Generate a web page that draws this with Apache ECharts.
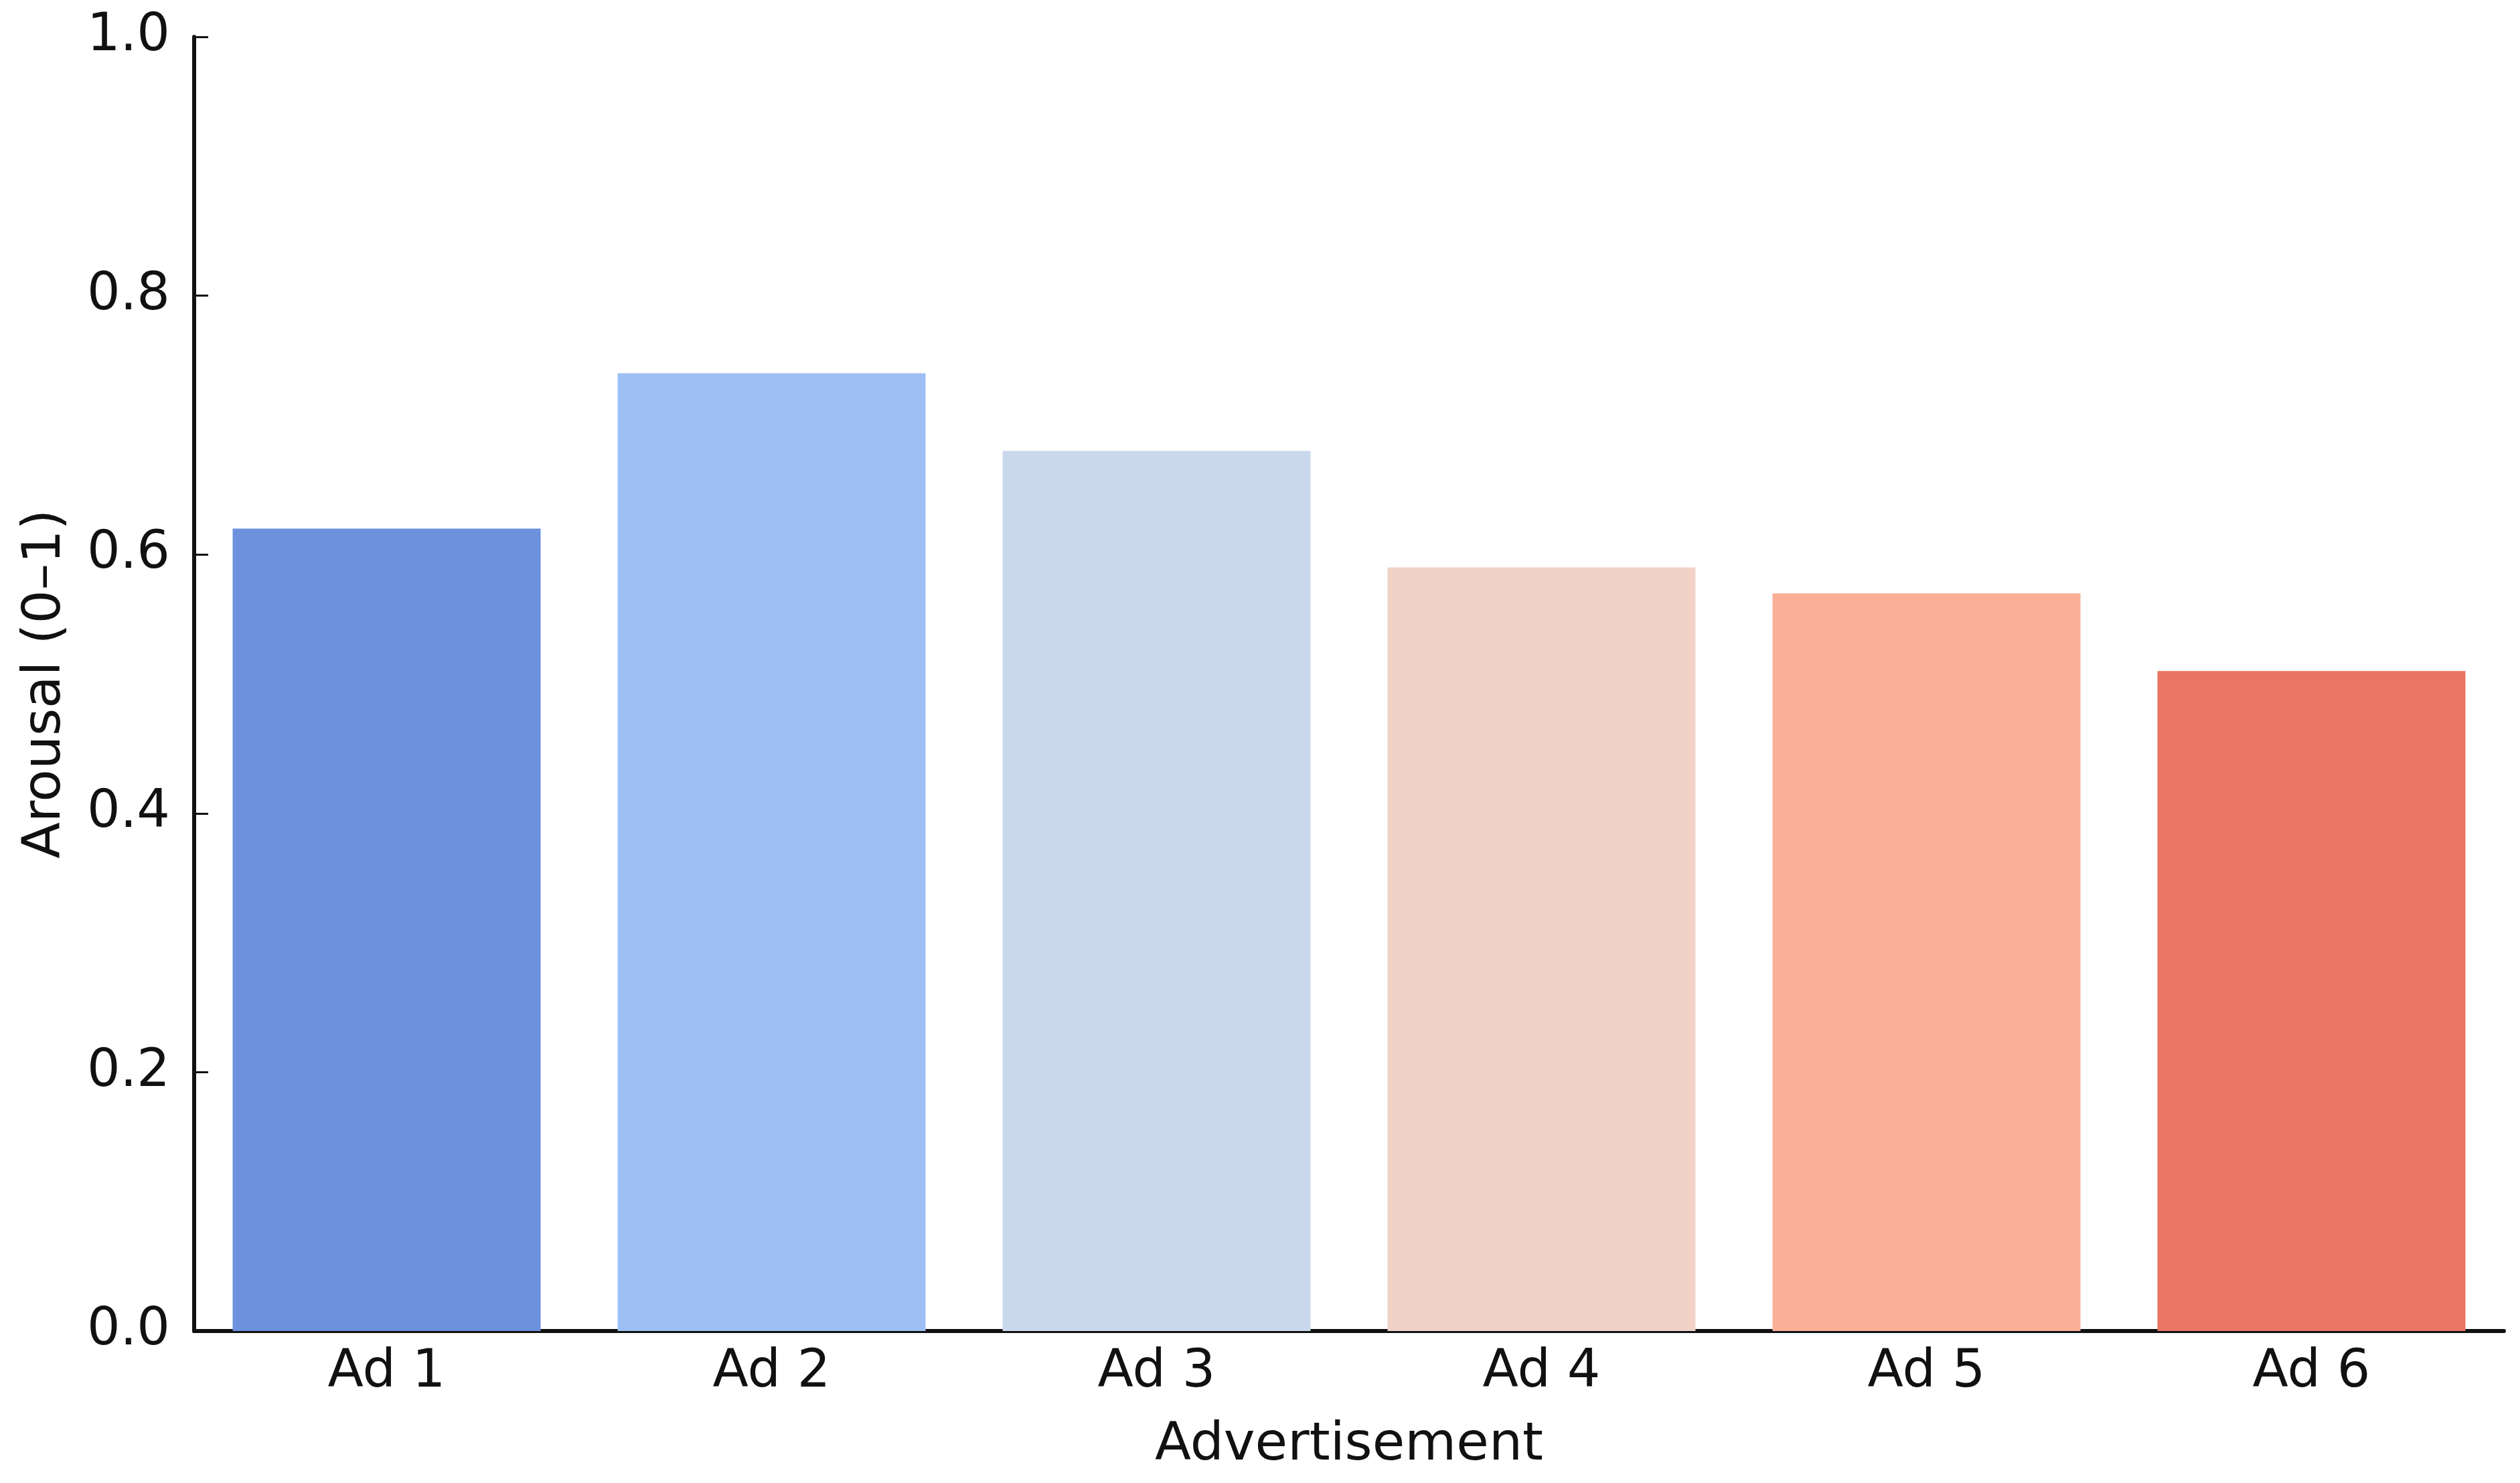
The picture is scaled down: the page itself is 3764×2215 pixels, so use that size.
<!DOCTYPE html>
<html>
<head>
<meta charset="utf-8">
<script src="https://cdn.jsdelivr.net/npm/echarts@6/dist/echarts.min.js"></script>
<style>
html,body{margin:0;padding:0;background:#fff;}
#chart{width:3764px;height:2215px;}
</style>
</head>
<body>
<div id="chart"></div>
<script>
const categories = ['Ad 1', 'Ad 2', 'Ad 3', 'Ad 4', 'Ad 5', 'Ad 6'];
const arousal = [0.62, 0.74, 0.68, 0.59, 0.57, 0.51];
const barColors = ['#6c91dd', '#9dbff3', '#cad8eb', '#f0d2c7', '#faaf97', '#e97664'];
const yTicks = [0.0, 0.2, 0.4, 0.6, 0.8, 1.0];

const FONT = 'DejaVu Sans';
const chart = echarts.init(document.getElementById('chart'));
chart.setOption({
  animation: false,
  backgroundColor: '#ffffff',
  grid: { left: 290, right: 24, top: 55, bottom: 227, containLabel: false },
  xAxis: {
    type: 'category',
    data: categories,
    boundaryGap: true,
    name: 'Advertisement',
    nameLocation: 'middle',
    nameGap: 132,
    nameTextStyle: { fontFamily: FONT, fontSize: 79, color: '#111' },
    axisLine: { show: true, lineStyle: { color: '#111', width: 6 } },
    axisTick: { show: true, alignWithLabel: true, inside: true, length: 21, lineStyle: { color: '#111', width: 3 } },
    axisLabel: { fontFamily: FONT, fontSize: 78, color: '#111', margin: 24 },
    splitLine: { show: false }
  },
  yAxis: {
    type: 'value',
    min: 0,
    max: 1,
    interval: 0.2,
    name: 'Arousal (0–1)',
    nameLocation: 'middle',
    nameGap: 182,
    nameRotate: 90,
    nameTextStyle: { fontFamily: FONT, fontSize: 79, color: '#111' },
    axisLine: { show: true, lineStyle: { color: '#111', width: 6 } },
    axisTick: { show: true, inside: true, length: 21, lineStyle: { color: '#111', width: 3 } },
    axisLabel: {
      fontFamily: FONT, fontSize: 78, color: '#111', margin: 36,
      formatter: v => yTicks.includes(Math.round(v * 10) / 10) ? v.toFixed(1) : ''
    },
    splitLine: { show: false }
  },
  series: [{
    type: 'bar',
    data: arousal.map((v, i) => ({ value: v, itemStyle: { color: barColors[i] } })),
    barWidth: '80%'
  }]
});
</script>
</body>
</html>
